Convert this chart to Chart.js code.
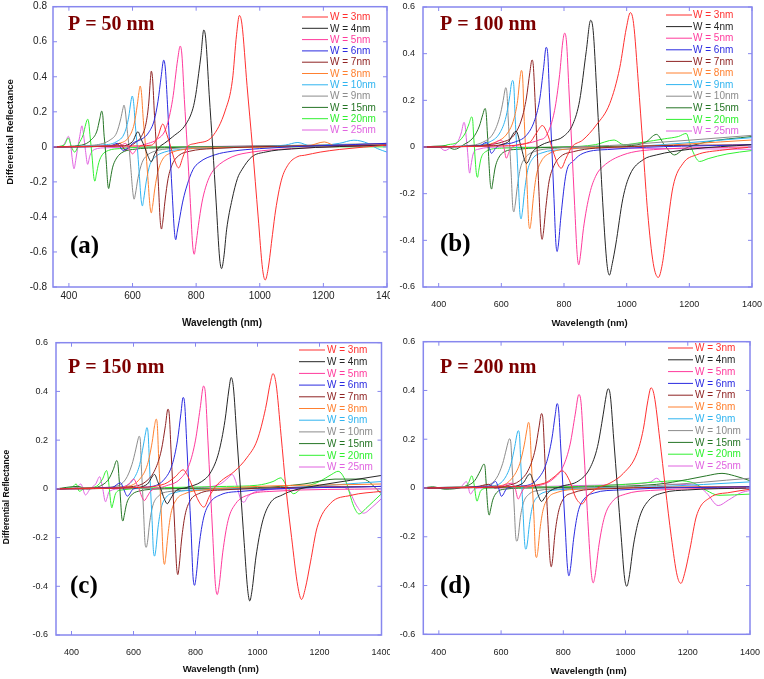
<!DOCTYPE html>
<html><head><meta charset="utf-8">
<script src="https://cdn.jsdelivr.net/npm/chart.js@4.4.1/dist/chart.umd.min.js"></script>
<style>
body{margin:0;background:#fff;width:764px;height:679px;position:relative;overflow:hidden}
.p{position:absolute}
canvas{display:block}
</style>
</head><body>
<div class="p" style="left:0;top:0"><canvas id="ca" width="390" height="330"></canvas></div>
<div class="p" style="left:390px;top:0"><canvas id="cb" width="374" height="330"></canvas></div>
<div class="p" style="left:0;top:330px"><canvas id="cc" width="390" height="349"></canvas></div>
<div class="p" style="left:390px;top:330px"><canvas id="cd" width="374" height="349"></canvas></div>
<script>
// ---------- tick labels / categories ----------
const xTicks = [400, 600, 800, 1000, 1200, 1400];
const yTicksA = [-0.8, -0.6, -0.4, -0.2, 0, 0.2, 0.4, 0.6, 0.8];
const yTicksBCD = [-0.6, -0.4, -0.2, 0, 0.2, 0.4, 0.6];
const legendA = ['W = 3nm','W = 4nm','W = 5nm','W = 6nm','W = 7nm','W = 8nm','W = 10nm','W = 9nm','W = 15nm','W = 20nm','W = 25nm'];
const legendBCD = ['W = 3nm','W = 4nm','W = 5nm','W = 6nm','W = 7nm','W = 8nm','W = 9nm','W = 10nm','W = 15nm','W = 20nm','W = 25nm'];
const seriesColors = ['#ff3030','#262626','#ff3a9c','#2a2ae0','#8f2323','#ff8030','#30b4f0','#8c8c8c','#257525','#30f030','#e063e0'];
const panelTitles = ['P = 50 nm','P = 100 nm','P = 150 nm','P = 200 nm'];
const panelTags = ['(a)','(b)','(c)','(d)'];
const xTitle = 'Wavelength (nm)';
const yTitle = 'Differential Reflectance';

// ---------- Panel (a) P = 50 nm ----------
const a3 = [[350,0],[600,0.005],[660,0.01],[680,0.06],[695,0.13],[708,0.07],[720,0],[733,-0.08],[745,-0.12],[758,-0.06],[772,0],[800,0.02],[850,0.057],[892,0.21],[914,0.38],[927,0.64],[936,0.75],[944,0.7],[960,0.35],[977,0],[995,-0.4],[1009,-0.7],[1017,-0.76],[1026,-0.7],[1040,-0.5],[1050,-0.36],[1068,-0.19],[1090,-0.1],[1120,-0.055],[1141,-0.048],[1190,-0.03],[1250,-0.015],[1400,0.01]];
const a4 = [[350,0],[560,0.005],[600,0.03],[617,0.086],[628,0.04],[638,0],[648,-0.05],[659,-0.085],[670,-0.04],[685,0],[700,0.02],[726,0.057],[768,0.13],[790,0.22],[799,0.3],[808,0.42],[815,0.52],[824,0.667],[830,0.62],[841,0.3],[852,0],[863,-0.32],[874,-0.64],[880,-0.695],[887,-0.63],[896,-0.47],[913,-0.3],[930,-0.18],[944,-0.13],[975,-0.057],[1017,-0.03],[1100,-0.012],[1400,0.01]];
const a5 = [[350,0],[540,0.005],[565,0.01],[578,0.02],[589,-0.01],[600,-0.04],[610,-0.02],[620,0],[650,0.02],[675,0.04],[706,0.11],[726,0.27],[742,0.5],[750,0.575],[755,0.53],[763,0.27],[772,0],[781,-0.29],[789,-0.56],[794,-0.613],[799,-0.56],[807,-0.45],[818,-0.32],[830,-0.23],[845,-0.16],[861,-0.12],[913,-0.057],[975,-0.03],[1100,-0.01],[1400,0.01]];
const a6 = [[350,0],[530,0.005],[552,0.02],[561,0],[570,-0.02],[590,0],[600,0.02],[630,0.045],[650,0.08],[668,0.15],[680,0.26],[690,0.4],[698,0.495],[703,0.45],[710,0.24],[717,0],[724,-0.24],[732,-0.49],[736,-0.53],[740,-0.49],[747,-0.42],[757,-0.32],[768,-0.24],[790,-0.13],[809,-0.09],[860,-0.045],[913,-0.025],[1000,-0.01],[1400,0.02]];
const a7 = [[350,0],[540,0.005],[560,0.02],[569,0],[578,-0.02],[590,0],[610,0.025],[628,0.06],[642,0.13],[651,0.25],[656,0.38],[659,0.432],[663,0.39],[669,0.18],[675,0],[681,-0.2],[687,-0.42],[691,-0.469],[695,-0.43],[702,-0.31],[712,-0.18],[725,-0.1],[745,-0.05],[780,-0.025],[850,-0.01],[1400,0.01]];
const a8 = [[350,0],[500,0.005],[560,0.02],[590,0.06],[605,0.13],[615,0.24],[620,0.31],[624,0.347],[628,0.31],[634,0.15],[641,0],[648,-0.17],[655,-0.34],[659,-0.377],[663,-0.34],[670,-0.24],[680,-0.14],[695,-0.07],[720,-0.035],[760,-0.015],[850,-0.005],[1150,0.005],[1203,0.028],[1240,0.005],[1300,0.01],[1400,0.02]];
const aCyan = [[350,0],[500,0.01],[550,0.03],[575,0.08],[588,0.17],[595,0.26],[599,0.29],[603,0.26],[609,0.12],[615,0],[621,-0.15],[627,-0.3],[631,-0.337],[635,-0.3],[643,-0.2],[655,-0.1],[670,-0.06],[700,-0.03],[750,-0.015],[900,-0.005],[1080,0.01],[1120,0.025],[1160,0.005],[1250,0.02],[1296,0.038],[1340,0.02],[1370,-0.01],[1400,-0.03]];
const aGray = [[350,0],[480,0.01],[530,0.04],[550,0.08],[563,0.16],[570,0.22],[573,0.238],[577,0.21],[583,0.1],[589,0],[595,-0.13],[601,-0.26],[605,-0.299],[609,-0.27],[617,-0.18],[630,-0.09],[645,-0.05],[670,-0.025],[720,-0.01],[900,0],[1400,0.02]];
const a15 = [[350,0],[440,0.01],[470,0.04],[488,0.09],[497,0.16],[503,0.204],[507,0.17],[510,0.08],[514,0],[518,-0.1],[522,-0.21],[525,-0.238],[529,-0.2],[537,-0.12],[548,-0.07],[565,-0.035],[600,-0.015],[700,-0.005],[1400,0.01]];
const a20 = [[350,0],[385,0.01],[398,0.05],[408,0],[418,-0.03],[432,0.02],[445,0.07],[453,0.13],[459,0.158],[463,0.13],[466,0.07],[470,0],[474,-0.08],[478,-0.17],[482,-0.196],[486,-0.16],[494,-0.09],[505,-0.045],[525,-0.02],[560,-0.01],[700,0],[1400,0]];
const a25 = [[350,0],[380,0.005],[392,0.04],[398,0.06],[405,0.02],[410,-0.06],[416,-0.125],[422,-0.07],[428,0],[434,0.06],[441,0.12],[446,0.07],[452,-0.02],[459,-0.1],[466,-0.05],[480,-0.015],[520,-0.005],[700,0],[1400,0.01]];

// ---------- Panel (b) P = 100 nm ----------
const b3 = [[350,0],[600,0.005],[690,0.02],[712,0.06],[731,0.092],[746,0.06],[761,0],[776,-0.06],[791,-0.091],[806,-0.05],[825,0],[860,0.03],[903,0.094],[946,0.186],[978,0.34],[999,0.51],[1012,0.576],[1022,0.53],[1037,0.28],[1052,0],[1067,-0.28],[1085,-0.5],[1101,-0.559],[1114,-0.5],[1127,-0.37],[1148,-0.17],[1180,-0.07],[1222,-0.034],[1307,-0.013],[1400,0]];
const b4 = [[350,0],[560,0.005],[620,0.02],[647,0.068],[663,0],[680,-0.07],[700,-0.02],[730,0.01],[760,0.025],[797,0.044],[829,0.1],[850,0.2],[871,0.41],[885,0.543],[893,0.5],[904,0.25],[914,0],[925,-0.27],[937,-0.5],[945,-0.549],[954,-0.5],[965,-0.42],[988,-0.22],[1010,-0.12],[1052,-0.055],[1095,-0.034],[1200,-0.01],[1400,0.01]];
const b5 = [[350,0],[560,0.005],[600,0.03],[608,0],[616,-0.048],[625,-0.02],[635,0],[680,0.015],[720,0.03],[744,0.05],[770,0.157],[786,0.31],[796,0.45],[802,0.488],[808,0.45],[816,0.24],[825,0],[834,-0.25],[842,-0.46],[847,-0.505],[852,-0.47],[862,-0.35],[882,-0.2],[903,-0.12],[924,-0.084],[988,-0.034],[1100,-0.01],[1400,0]];
const b6 = [[350,0],[530,0.005],[553,0.02],[561,0],[568,-0.027],[585,0],[640,0.02],[680,0.05],[705,0.11],[722,0.2],[735,0.34],[743,0.427],[748,0.4],[754,0.21],[761,0],[768,-0.22],[774,-0.41],[778,-0.448],[782,-0.42],[790,-0.3],[807,-0.112],[830,-0.06],[861,-0.027],[950,-0.01],[1400,0.01]];
const b7 = [[350,0],[520,0.005],[560,0.01],[600,0.02],[640,0.05],[665,0.12],[680,0.21],[691,0.32],[698,0.373],[702,0.35],[708,0.19],[714,0],[720,-0.19],[726,-0.36],[730,-0.396],[734,-0.37],[742,-0.26],[752,-0.15],[768,-0.08],[790,-0.04],[830,-0.02],[900,-0.005],[1400,0.01]];
const b8 = [[350,0],[520,0.005],[580,0.02],[620,0.06],[640,0.12],[652,0.2],[659,0.29],[664,0.328],[668,0.3],[672,0.15],[677,0],[682,-0.16],[687,-0.32],[691,-0.35],[695,-0.32],[702,-0.22],[712,-0.12],[728,-0.06],[750,-0.03],[800,-0.01],[1000,0],[1400,0.03]];
const b9 = [[350,0],[500,0.005],[560,0.02],[595,0.06],[615,0.13],[627,0.22],[632,0.27],[636,0.285],[640,0.26],[644,0.13],[649,0],[654,-0.14],[659,-0.28],[663,-0.308],[667,-0.28],[674,-0.19],[684,-0.1],[700,-0.05],[730,-0.025],[800,-0.01],[1000,0],[1400,0.04]];
const b10 = [[350,0],[480,0.005],[540,0.02],[575,0.06],[595,0.13],[606,0.2],[611,0.24],[614,0.254],[618,0.23],[622,0.12],[627,0],[632,-0.13],[636,-0.25],[640,-0.278],[644,-0.25],[651,-0.17],[661,-0.09],[677,-0.045],[705,-0.02],[780,-0.005],[1000,0.01],[1400,0.05]];
const b15 = [[350,0],[420,0.005],[450,-0.01],[480,0.01],[510,0.04],[530,0.09],[541,0.14],[548,0.165],[552,0.14],[555,0.07],[558,0],[561,-0.08],[565,-0.16],[569,-0.18],[573,-0.15],[580,-0.09],[590,-0.05],[610,-0.02],[650,-0.01],[800,0],[1000,0.005],[1060,0.02],[1095,0.054],[1120,0.01],[1153,-0.034],[1180,-0.01],[1250,0.02],[1400,0.045]];
const b20 = [[350,0],[400,0],[430,0.01],[460,0.02],[485,0.06],[497,0.1],[505,0.129],[509,0.11],[511,0.06],[514,0],[517,-0.06],[520,-0.11],[524,-0.13],[528,-0.1],[535,-0.05],[550,-0.02],[600,-0.005],[800,0],[900,0.01],[960,0.03],[990,0.01],[1050,0.02],[1120,0.035],[1165,0.045],[1190,0.058],[1205,0],[1233,-0.062],[1260,-0.05],[1320,-0.03],[1400,-0.015]];
const b25 = [[350,0],[400,0],[420,-0.015],[440,0],[460,0.02],[472,0.06],[481,0.106],[485,0.085],[488,0.04],[491,0],[494,-0.05],[496,-0.09],[499,-0.112],[503,-0.08],[510,-0.03],[525,-0.01],[600,0],[1000,-0.005],[1400,-0.01]];

// ---------- Panel (c) P = 150 nm ----------
const c3 = [[350,0],[600,0.005],[700,0.02],[735,0.05],[760,0.078],[776,0.05],[793,0],[810,-0.05],[827,-0.075],[845,-0.03],[865,0.01],[890,0.04],[924,0.07],[967,0.13],[999,0.2],[1026,0.33],[1042,0.44],[1050,0.473],[1060,0.43],[1076,0.22],[1092,0],[1110,-0.2],[1130,-0.4],[1142,-0.454],[1154,-0.41],[1171,-0.3],[1192,-0.16],[1235,-0.06],[1300,-0.027],[1400,-0.01]];
const c4 = [[350,0],[600,0.005],[645,0.02],[668,0.059],[678,0.03],[688,0],[699,-0.04],[709,-0.061],[720,-0.04],[735,-0.01],[770,0.005],[820,0.03],[850,0.07],[875,0.15],[895,0.28],[908,0.41],[915,0.457],[922,0.42],[933,0.22],[945,0],[957,-0.22],[968,-0.41],[975,-0.46],[982,-0.42],[995,-0.28],[1015,-0.14],[1040,-0.06],[1080,-0.025],[1120,-0.005],[1200,0.015],[1300,0.035],[1400,0.055]];
const c5 = [[350,0],[560,0.005],[585,0.02],[601,0.04],[610,0.02],[618,0],[626,-0.03],[635,-0.048],[645,-0.03],[655,-0.01],[700,0.01],[750,0.04],[780,0.1],[800,0.2],[815,0.33],[826,0.422],[832,0.39],[840,0.2],[848,0],[856,-0.2],[864,-0.39],[870,-0.434],[876,-0.4],[888,-0.26],[905,-0.13],[930,-0.06],[970,-0.025],[1050,-0.01],[1400,0]];
const c6 = [[350,0],[530,0.005],[558,0.025],[568,0],[580,-0.03],[600,0],[660,0.01],[700,0.04],[725,0.1],[742,0.2],[753,0.31],[760,0.375],[765,0.35],[772,0.18],[779,0],[786,-0.18],[792,-0.36],[797,-0.396],[802,-0.36],[812,-0.23],[826,-0.12],[845,-0.06],[880,-0.025],[950,-0.01],[1400,0.01]];
const c7 = [[350,0],[520,0.005],[600,0.01],[640,0.03],[670,0.08],[690,0.16],[703,0.26],[711,0.327],[715,0.31],[721,0.16],[727,0],[733,-0.16],[739,-0.32],[743,-0.352],[747,-0.32],[755,-0.21],[766,-0.11],[782,-0.05],[810,-0.02],[880,-0.005],[1400,0.01]];
const c8 = [[350,0],[500,0.005],[580,0.01],[620,0.04],[645,0.1],[660,0.19],[668,0.26],[673,0.286],[677,0.26],[681,0.13],[686,0],[691,-0.14],[696,-0.28],[700,-0.31],[704,-0.28],[711,-0.19],[721,-0.1],[738,-0.045],[765,-0.02],[820,-0.005],[1400,0.02]];
const c9 = [[350,0],[500,0.005],[570,0.01],[600,0.04],[620,0.1],[632,0.18],[639,0.23],[643,0.251],[647,0.23],[651,0.12],[655,0],[660,-0.13],[664,-0.25],[668,-0.276],[672,-0.25],[679,-0.16],[689,-0.08],[705,-0.035],[735,-0.015],[800,-0.005],[1100,0.005],[1400,0.03]];
const c10 = [[350,0],[480,0.005],[540,0.01],[575,0.04],[595,0.1],[607,0.16],[614,0.2],[618,0.216],[622,0.2],[625,0.1],[629,0],[633,-0.11],[637,-0.22],[641,-0.24],[645,-0.22],[652,-0.14],[662,-0.07],[680,-0.03],[710,-0.012],[800,-0.005],[1400,0.01]];
const c15 = [[350,0],[420,0.01],[450,0],[490,0.01],[520,0.04],[535,0.08],[546,0.116],[550,0.1],[553,0.05],[556,0],[559,-0.06],[562,-0.115],[566,-0.132],[570,-0.11],[578,-0.06],[590,-0.03],[615,-0.01],[700,0],[1000,0.005],[1150,0.02],[1250,0.04],[1340,0.04],[1400,-0.02]];
const c20 = [[350,0],[400,0.005],[415,0.02],[425,-0.01],[440,0],[480,0.01],[500,0.04],[513,0.075],[518,0.05],[522,0],[527,-0.06],[530,-0.078],[534,-0.06],[542,-0.02],[560,-0.005],[700,0.005],[900,0.01],[1000,0.015],[1050,0.03],[1075,0.045],[1095,0.01],[1117,-0.02],[1140,0],[1200,0.03],[1240,0.06],[1260,0.072],[1285,0.03],[1310,-0.07],[1328,-0.103],[1350,-0.08],[1375,-0.05],[1400,-0.02]];
const c25 = [[350,0],[415,0.005],[430,0.02],[445,-0.025],[460,0],[478,0.02],[491,0.05],[496,0.03],[501,0],[507,-0.045],[510,-0.053],[514,-0.04],[522,-0.01],[560,0],[800,0.005],[880,0.02],[905,0.045],[918,0.059],[930,0.03],[945,-0.04],[956,-0.055],[970,-0.03],[1000,-0.01],[1100,0],[1250,0.01],[1290,0],[1320,-0.07],[1342,-0.1],[1370,-0.075],[1400,-0.04]];

// ---------- Panel (d) P = 200 nm ----------
const d3 = [[350,0],[620,0.005],[740,0.02],[770,0.045],[797,0.07],[820,0.03],[840,-0.04],[860,-0.065],[880,-0.03],[910,0],[950,0.02],[993,0.06],[1036,0.14],[1057,0.24],[1072,0.36],[1082,0.411],[1092,0.38],[1110,0.2],[1128,0],[1147,-0.2],[1166,-0.36],[1178,-0.391],[1190,-0.35],[1207,-0.25],[1228,-0.115],[1271,-0.04],[1336,-0.018],[1400,-0.005]];
const d4 = [[350,0],[620,0.005],[670,0.02],[693,0.058],[703,0.03],[712,0],[721,-0.035],[730,-0.055],[740,-0.04],[750,-0.02],[790,0.005],[850,0.03],[885,0.08],[910,0.17],[928,0.3],[938,0.38],[944,0.407],[951,0.38],[962,0.2],[974,0],[986,-0.2],[997,-0.37],[1004,-0.403],[1011,-0.37],[1026,-0.23],[1045,-0.12],[1075,-0.05],[1120,-0.02],[1200,-0.008],[1400,0]];
const d5 = [[350,0],[590,0.005],[635,0.02],[645,0],[655,-0.045],[665,-0.02],[675,0],[720,0.01],[770,0.04],[800,0.09],[822,0.18],[838,0.3],[850,0.383],[857,0.35],[865,0.18],[873,0],[881,-0.18],[890,-0.35],[896,-0.389],[902,-0.36],[915,-0.23],[932,-0.12],[958,-0.055],[1000,-0.025],[1080,-0.01],[1400,0]];
const d6 = [[350,0],[540,0.005],[566,0.01],[582,0.027],[592,0],[601,-0.034],[620,0],[680,0.01],[720,0.04],[745,0.1],[763,0.2],[774,0.3],[780,0.346],[785,0.32],[792,0.16],[799,0],[806,-0.16],[813,-0.32],[818,-0.36],[823,-0.33],[833,-0.21],[847,-0.1],[867,-0.045],[900,-0.02],[980,-0.008],[1400,0.005]];
const d7 = [[350,0],[520,0.005],[560,0.015],[580,0],[620,0.01],[660,0.03],[690,0.08],[710,0.16],[722,0.25],[730,0.305],[734,0.29],[740,0.14],[745,0],[751,-0.15],[757,-0.29],[761,-0.323],[765,-0.3],[773,-0.19],[784,-0.1],[800,-0.045],[830,-0.02],[900,-0.005],[1400,0.005]];
const d8 = [[350,0],[520,0.005],[600,0.01],[635,0.04],[660,0.1],[675,0.18],[683,0.24],[688,0.269],[692,0.25],[697,0.12],[701,0],[706,-0.13],[710,-0.26],[714,-0.285],[718,-0.26],[725,-0.17],[735,-0.09],[752,-0.04],[780,-0.018],[850,-0.005],[1400,0.005]];
const d9 = [[350,0],[500,0.005],[580,0.01],[612,0.04],[632,0.1],[644,0.17],[651,0.22],[655,0.235],[659,0.22],[663,0.11],[667,0],[671,-0.11],[676,-0.23],[680,-0.251],[684,-0.23],[691,-0.15],[701,-0.075],[718,-0.035],[745,-0.015],[820,-0.005],[1100,0.005],[1400,0.025]];
const d10 = [[350,0],[480,0.005],[550,0.01],[585,0.04],[605,0.1],[617,0.16],[623,0.19],[627,0.202],[631,0.19],[635,0.1],[639,0],[643,-0.1],[647,-0.2],[651,-0.218],[655,-0.2],[662,-0.12],[672,-0.06],[690,-0.025],[720,-0.01],[800,-0.003],[1100,0.01],[1400,0.04]];
const d15 = [[350,0],[380,0.005],[420,-0.005],[480,0.005],[515,0.03],[533,0.07],[545,0.098],[549,0.08],[551,0.04],[553,0],[556,-0.06],[559,-0.1],[562,-0.111],[566,-0.09],[573,-0.05],[585,-0.02],[610,-0.005],[700,0],[900,0.005],[1100,0.015],[1200,0.035],[1260,0.05],[1310,0.06],[1350,0.05],[1400,0.03]];
const d20 = [[350,0],[480,0.005],[495,0.02],[506,0.05],[511,0.03],[515,0],[520,-0.045],[523,-0.054],[527,-0.04],[535,-0.01],[560,0],[800,0.005],[1000,0.015],[1100,0.025],[1170,0.03],[1220,0.02],[1260,-0.01],[1300,-0.03],[1400,-0.025]];
const d25 = [[350,0],[470,0.005],[482,0.02],[488,0.027],[494,0.01],[499,-0.02],[503,-0.024],[510,-0.01],[530,0],[600,0],[700,0.005],[850,0.01],[1000,0.015],[1080,0.025],[1100,0.04],[1120,0.02],[1160,0.015],[1230,0.01],[1260,-0.02],[1298,-0.072],[1330,-0.05],[1370,-0.02],[1400,-0.01]];

// ---------- build ----------
const FONT = '"Liberation Sans", Arial, sans-serif';
const SERIF = '"Liberation Serif", "Times New Roman", serif';

const decor = {
  id: 'decor',
  afterDatasetsDraw(chart, args, o) {
    const ctx = chart.ctx, a = chart.chartArea, xs = chart.scales.x, ys = chart.scales.y;
    ctx.save();
    // frame
    ctx.strokeStyle = '#8787ee';
    ctx.lineWidth = 1.5;
    ctx.strokeRect(a.left, a.top, a.right - a.left, a.bottom - a.top);
    ctx.beginPath();
    ctx.lineWidth = 1;
    xs.ticks.forEach(t => {
      const x = xs.getPixelForValue(t.value);
      ctx.moveTo(x, a.bottom); ctx.lineTo(x, a.bottom - 4);
      ctx.moveTo(x, a.top); ctx.lineTo(x, a.top + 4);
    });
    ys.ticks.forEach(t => {
      const y = ys.getPixelForValue(t.value);
      ctx.moveTo(a.left, y); ctx.lineTo(a.left + 4, y);
      ctx.moveTo(a.right, y); ctx.lineTo(a.right - 4, y);
    });
    ctx.stroke();
    // legend
    ctx.font = '10px ' + FONT;
    ctx.textBaseline = 'middle';
    ctx.textAlign = 'left';
    chart.data.datasets.forEach((d, i) => {
      const y = o.legY + i * o.legDy;
      ctx.strokeStyle = d.borderColor;
      ctx.lineWidth = 1;
      ctx.beginPath(); ctx.moveTo(o.legX0, y); ctx.lineTo(o.legX1, y); ctx.stroke();
      ctx.fillStyle = d.borderColor;
      ctx.fillText(d.label, o.legTx, y + 0.5);
    });
    // panel title and tag
    ctx.fillStyle = '#7d0000';
    ctx.font = 'bold 20px ' + SERIF;
    ctx.fillText(o.title, o.titleX, o.titleY);
    ctx.fillStyle = '#000';
    ctx.font = 'bold 25px ' + SERIF;
    ctx.fillText(o.tag, o.tagX, o.tagY);
    // axis titles
    ctx.fillStyle = '#111';
    ctx.textAlign = 'center';
    ctx.font = 'bold ' + o.xtSize + 'px ' + FONT;
    ctx.fillText(xTitle, (a.left + a.right) / 2 + 2, o.xtY);
    if (o.ytX) {
      ctx.save();
      ctx.translate(o.ytX, o.ytY);
      ctx.rotate(-Math.PI / 2);
      ctx.font = 'bold ' + o.ytSize + 'px ' + FONT;
      ctx.fillText(yTitle, 0, 0);
      ctx.restore();
    }
    ctx.restore();
  }
};

function makeChart(id, arrays, labels, yTickVals, L) {
  const datasets = arrays.map((d, i) => ({
    label: labels[i], data: d, borderColor: seriesColors[i], borderWidth: 1,
    pointRadius: 0, cubicInterpolationMode: 'monotone', fill: false
  }));
  const H = document.getElementById(id).height;
  return new Chart(document.getElementById(id), {
    type: 'line',
    data: { datasets },
    plugins: [decor],
    options: {
      responsive: false, animation: false, devicePixelRatio: 1,
      layout: { padding: { top: L.top, right: L.right, left: 0, bottom: 0 } },
      plugins: { legend: { display: false }, tooltip: { enabled: false }, decor: L.decor },
      scales: {
        x: {
          type: 'linear', min: 350, max: 1400,
          grid: { display: false, drawTicks: false }, border: { display: false },
          afterBuildTicks: s => { s.ticks = xTicks.map(v => ({ value: v })); },
          afterFit: s => { s.height = H - L.bottom; s.paddingLeft = 0; s.paddingRight = 0; },
          ticks: { autoSkip: false, maxRotation: 0, padding: L.xPad, color: '#222',
            font: { family: FONT, size: L.tickSize }, callback: v => String(v) }
        },
        y: {
          type: 'linear', min: yTickVals[0], max: yTickVals[yTickVals.length - 1],
          grid: { display: false, drawTicks: false }, border: { display: false },
          afterBuildTicks: s => { s.ticks = yTickVals.map(v => ({ value: v })); },
          afterFit: s => { s.width = L.left; s.paddingTop = 0; s.paddingBottom = 0; },
          ticks: {
            autoSkip: false, padding: L.yPad, color: '#222', font: { family: FONT, size: L.tickSize },
            callback: v => (Math.abs(v) < 1e-9 ? '0' : Number(v).toFixed(1))
          }
        }
      }
    }
  });
}

makeChart('ca', [a3, a4, a5, a6, a7, a8, aCyan, aGray, a15, a20, a25], legendA, yTicksA, {
  top: 6.7, right: 3, left: 53, bottom: 287, xPad: 3, yPad: 6, tickSize: 10,
  decor: { legX0: 302, legX1: 328, legTx: 330, legY: 17, legDy: 11.3,
    title: panelTitles[0], titleX: 68, titleY: 25, tag: panelTags[0], tagX: 70, tagY: 247,
    xtSize: 10, xtY: 323, ytX: 10, ytY: 132, ytSize: 9.5 }
});
makeChart('cb', [b3, b4, b5, b6, b7, b8, b9, b10, b15, b20, b25], legendBCD, yTicksBCD, {
  top: 7, right: 12, left: 33, bottom: 287, xPad: 12, yPad: 8, tickSize: 9,
  decor: { legX0: 276, legX1: 302, legTx: 303, legY: 15, legDy: 11.6,
    title: panelTitles[1], titleX: 50, titleY: 25, tag: panelTags[1], tagX: 50, tagY: 245,
    xtSize: 9.5, xtY: 323 }
});
makeChart('cc', [c3, c4, c5, c6, c7, c8, c9, c10, c15, c20, c25], legendBCD, yTicksBCD, {
  top: 12.7, right: 8.5, left: 56, bottom: 305, xPad: 12, yPad: 8, tickSize: 9,
  decor: { legX0: 299, legX1: 325, legTx: 327, legY: 20, legDy: 11.7,
    title: panelTitles[2], titleX: 68, titleY: 38, tag: panelTags[2], tagX: 70, tagY: 257,
    xtSize: 9.5, xtY: 339, ytX: 7, ytY: 167, ytSize: 8.5 }
});
makeChart('cd', [d3, d4, d5, d6, d7, d8, d9, d10, d15, d20, d25], legendBCD, yTicksBCD, {
  top: 11.7, right: 14, left: 33.3, bottom: 304.3, xPad: 13, yPad: 8, tickSize: 9,
  decor: { legX0: 278, legX1: 303, legTx: 305, legY: 18, legDy: 11.8,
    title: panelTitles[3], titleX: 50, titleY: 38, tag: panelTags[3], tagX: 50, tagY: 257,
    xtSize: 9.5, xtY: 341 }
});
</script>
</body></html>
